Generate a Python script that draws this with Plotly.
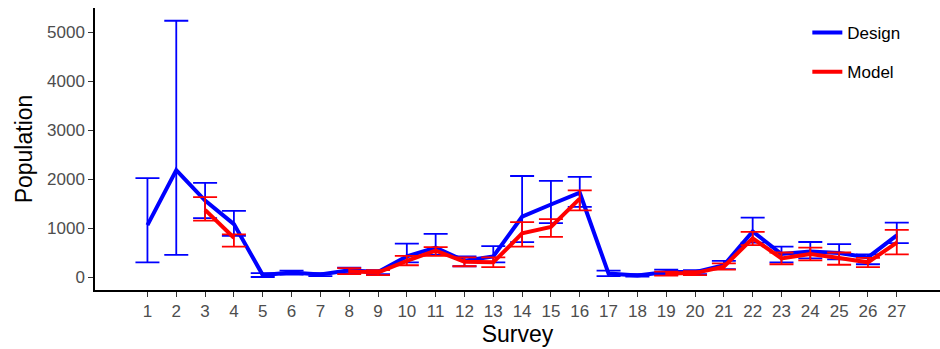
import numpy as np
import plotly.graph_objects as go

survey = list(range(1, 28))
tick_labels = [str(s) for s in survey]

design = [1060, 2180, 1560, 1080, 40, 90, 50, 140, 100, 420, 600, 330, 420, 1230, 1480, 1720, 70, 30, 100, 100, 240, 930, 470, 520, 490, 400, 850]
design_lo = [300, 450, 1200, 840, 0, 50, 20, 80, 60, 300, 450, 220, 300, 714, 1100, 1430, 20, 10, 50, 60, 160, 700, 300, 380, 360, 260, 690]
design_hi = [2020, 5230, 1920, 1350, 80, 130, 80, 190, 140, 680, 880, 420, 630, 2061, 1960, 2045, 130, 60, 150, 140, 330, 1210, 620, 715, 670, 460, 1110]

model = [None, None, 1370, 800, None, None, None, 120, 90, 330, 540, 310, 300, 890, 1020, 1600, None, None, 70, 80, 210, 790, 380, 470, 390, 300, 700]
model_lo = [None, None, 1150, 620, None, None, None, 60, 40, 240, 430, 220, 200, 620, 820, 1360, None, None, 30, 40, 150, 650, 260, 340, 250, 200, 460]
model_hi = [None, None, 1630, 870, None, None, None, 180, 140, 430, 610, 400, 400, 1120, 1180, 1770, None, None, 110, 120, 280, 920, 500, 600, 500, 390, 960]


def err(v, lo, hi):
    v = np.array([np.nan if a is None else a for a in v], dtype=float)
    lo = np.array([np.nan if a is None else a for a in lo], dtype=float)
    hi = np.array([np.nan if a is None else a for a in hi], dtype=float)
    return (hi - v).tolist(), (v - lo).tolist()


d_up, d_dn = err(design, design_lo, design_hi)
m_up, m_dn = err(model, model_lo, model_hi)

fig = go.Figure()
fig.add_trace(go.Scatter(
    x=survey, y=design, mode="lines", name="Design",
    line=dict(color="#0000FF", width=4), legendgroup="d",
    error_y=dict(type="data", symmetric=False, array=d_up, arrayminus=d_dn,
                 color="#0000FF", thickness=1.8, width=12),
))
fig.add_trace(go.Scatter(
    x=survey, y=model, mode="lines", name="Model", connectgaps=False,
    line=dict(color="#FF0000", width=4), legendgroup="m",
    error_y=dict(type="data", symmetric=False, array=m_up, arrayminus=m_dn,
                 color="#FF0000", thickness=1.8, width=12),
))

FONT = "Liberation Sans, Arial, sans-serif"
axis_font = dict(family=FONT, size=17, color="#4D4D4D")
title_font = dict(family=FONT, size=23, color="#000000")

fig.update_layout(
    width=940, height=349,
    margin=dict(l=95, r=0, t=8, b=59),
    paper_bgcolor="white", plot_bgcolor="white",
    font=dict(family=FONT),
    xaxis=dict(
        range=[-0.82, 28.5], tickmode="array", tickvals=survey, ticktext=tick_labels,
        showgrid=False, zeroline=False, showline=True, linecolor="black", linewidth=1.5,
        ticks="outside", ticklen=5, tickcolor="#333333", tickwidth=1.2,
        tickfont=axis_font, title=dict(text="Survey", font=title_font, standoff=4),
    ),
    yaxis=dict(
        range=[-265, 5490], tickmode="array", tickvals=[0, 1000, 2000, 3000, 4000, 5000],
        showgrid=False, zeroline=False, showline=True, linecolor="black", linewidth=1.5,
        ticks="outside", ticklen=5, tickcolor="#333333", tickwidth=1.2,
        tickfont=axis_font, title=dict(text="Population", font=title_font, standoff=8),
    ),
    legend=dict(x=0.843, y=0.975, xanchor="left", yanchor="top",
                font=dict(family=FONT, size=17, color="#000000"),
                bgcolor="rgba(0,0,0,0)", tracegroupgap=14),
)

fig.write_html("out.html", config={"displayModeBar": False},
               post_script="document.body.style.margin='0';")
